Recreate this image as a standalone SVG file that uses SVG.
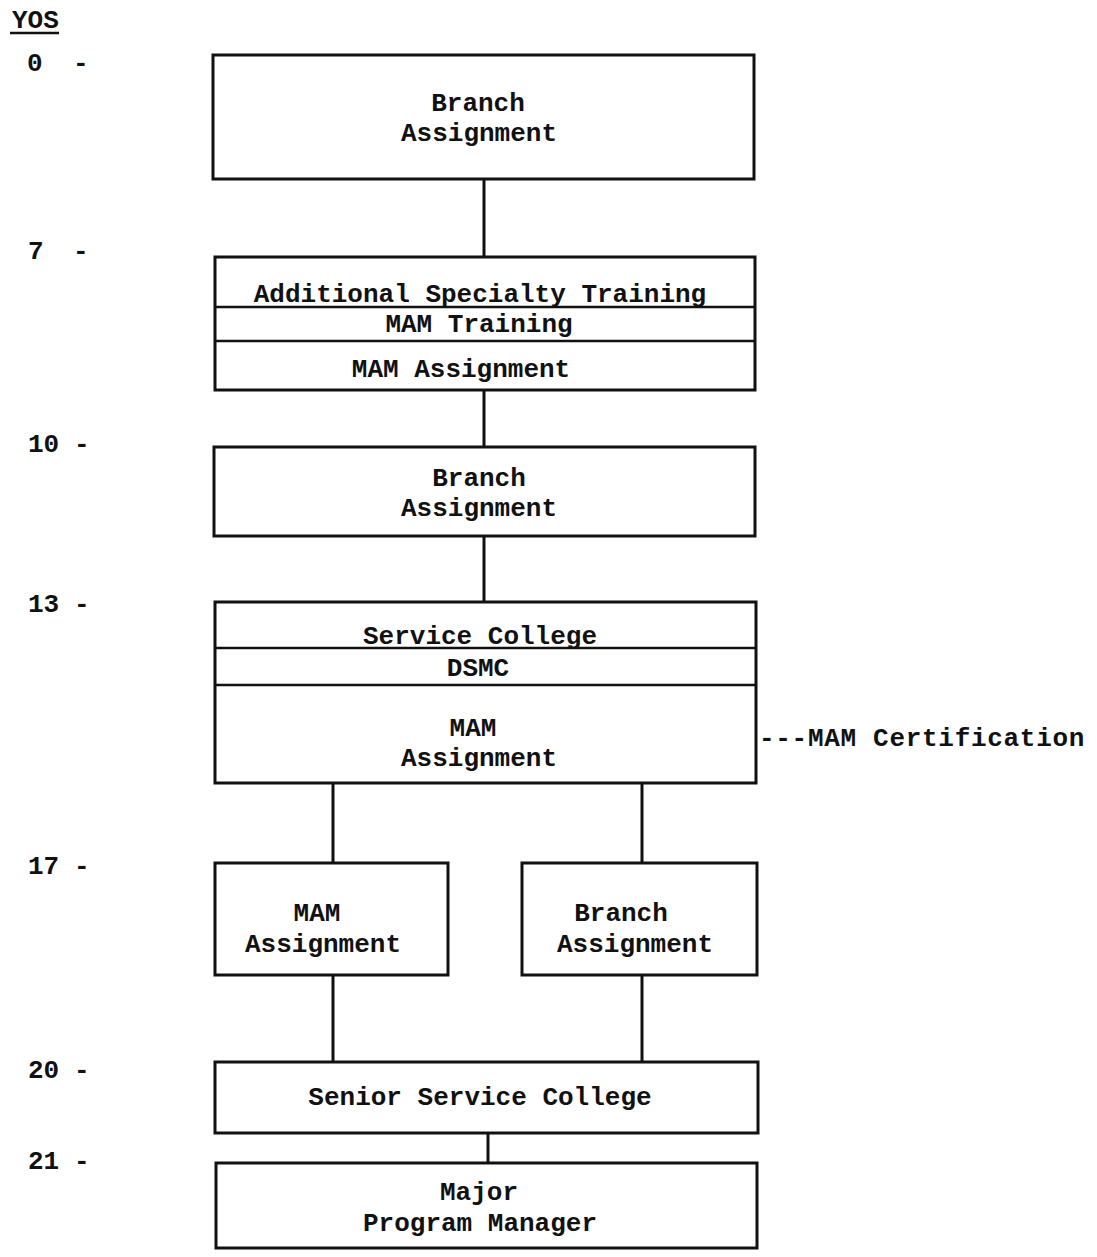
<svg xmlns="http://www.w3.org/2000/svg" width="1097" height="1257" viewBox="0 0 1097 1257">
<style>
.box{fill:#fff;stroke:#111;stroke-width:3}
.div{stroke:#111;stroke-width:2.5}
.con{stroke:#111;stroke-width:3;fill:none}
text{font-family:"Liberation Mono","DejaVu Sans Mono",monospace;font-size:26px;font-weight:bold;fill:#111}
.c{text-anchor:middle}
</style>
<rect width="1097" height="1257" fill="#fff"/>
<g id="axis">
<text x="12" y="28">YOS</text>
<line x1="10" y1="33" x2="59" y2="33" class="div"/>
<text x="27" y="71">0</text><text x="73" y="71">-</text>
<text x="28" y="259">7</text><text x="73" y="259">-</text>
<text x="28" y="452">10</text><text x="74" y="452">-</text>
<text x="28" y="612">13</text><text x="74" y="612">-</text>
<text x="28" y="874">17</text><text x="74" y="874">-</text>
<text x="28" y="1078">20</text><text x="74" y="1078">-</text>
<text x="28" y="1169">21</text><text x="74" y="1169">-</text>
</g>
<g id="connectors">
<line class="con" x1="484" y1="179" x2="484" y2="257"/>
<line class="con" x1="484" y1="390" x2="484" y2="447"/>
<line class="con" x1="484" y1="536" x2="484" y2="602"/>
<line class="con" x1="333" y1="783" x2="333" y2="863"/>
<line class="con" x1="642" y1="783" x2="642" y2="863"/>
<line class="con" x1="333" y1="975" x2="333" y2="1062"/>
<line class="con" x1="642" y1="975" x2="642" y2="1062"/>
<line class="con" x1="488" y1="1133" x2="488" y2="1163"/>
</g>
<g id="n1">
<rect class="box" x="213" y="55" width="541" height="124"/>
<text class="c" x="478" y="111">Branch</text>
<text class="c" x="479" y="141">Assignment</text>
</g>
<g id="n2">
<rect class="box" x="215" y="257" width="540" height="133"/>
<line class="div" x1="215" y1="307" x2="755" y2="307"/>
<line class="div" x1="215" y1="341" x2="755" y2="341"/>
<text class="c" x="480" y="302">Additional Specialty Training</text>
<text class="c" x="479" y="332">MAM Training</text>
<text class="c" x="461" y="377">MAM Assignment</text>
</g>
<g id="n3">
<rect class="box" x="214" y="447" width="541" height="89"/>
<text class="c" x="479" y="486">Branch</text>
<text class="c" x="479" y="516">Assignment</text>
</g>
<g id="n4">
<rect class="box" x="215" y="602" width="541" height="181"/>
<line class="div" x1="215" y1="648" x2="756" y2="648"/>
<line class="div" x1="215" y1="685" x2="756" y2="685"/>
<text class="c" x="480" y="644">Service College</text>
<text class="c" x="478" y="676">DSMC</text>
<text class="c" x="473" y="736">MAM</text>
<text class="c" x="479" y="766">Assignment</text>
</g>
<g id="cert">
<text x="759" y="746" letter-spacing="0.7">---MAM Certification</text>
</g>
<g id="n5a">
<rect class="box" x="215" y="863" width="233" height="112"/>
<text class="c" x="317" y="921">MAM</text>
<text class="c" x="323" y="952">Assignment</text>
</g>
<g id="n5b">
<rect class="box" x="522" y="863" width="235" height="112"/>
<text class="c" x="621" y="921">Branch</text>
<text class="c" x="635" y="952">Assignment</text>
</g>
<g id="n6">
<rect class="box" x="215" y="1062" width="543" height="71"/>
<text class="c" x="480" y="1105">Senior Service College</text>
</g>
<g id="n7">
<rect class="box" x="216" y="1163" width="541" height="85"/>
<text class="c" x="479" y="1200">Major</text>
<text class="c" x="480" y="1231">Program Manager</text>
</g>
</svg>
